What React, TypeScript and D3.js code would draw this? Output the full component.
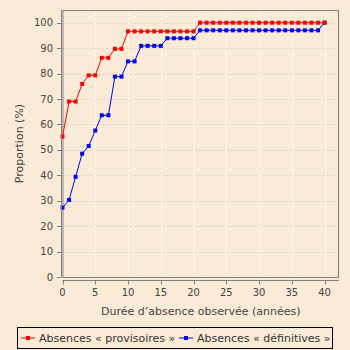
import React from "react";
import * as d3 from "d3";

const years: number[] = d3.range(0, 41);
const provisoires: number[] = [
  55.2, 69.0, 69.0, 75.9, 79.3, 79.3, 86.2, 86.2, 89.7, 89.7,
  96.6, 96.6, 96.6, 96.6, 96.6, 96.6, 96.6, 96.6, 96.6, 96.6, 96.6,
  100, 100, 100, 100, 100, 100, 100, 100, 100, 100,
  100, 100, 100, 100, 100, 100, 100, 100, 100, 100,
];
const definitives: number[] = [
  27.3, 30.3, 39.4, 48.5, 51.5, 57.6, 63.6, 63.6, 78.8, 78.8,
  84.8, 84.8, 90.9, 90.9, 90.9, 90.9, 93.9, 93.9, 93.9, 93.9, 93.9,
  97.0, 97.0, 97.0, 97.0, 97.0, 97.0, 97.0, 97.0, 97.0, 97.0,
  97.0, 97.0, 97.0, 97.0, 97.0, 97.0, 97.0, 97.0, 97.0, 100,
];
const xTicks: number[] = [0, 5, 10, 15, 20, 25, 30, 35, 40];
const yTicks: number[] = [0, 10, 20, 30, 40, 50, 60, 70, 80, 90, 100];
const seriesNames: string[] = ["Absences « provisoires »", "Absences « définitives »"];
const seriesColors: string[] = ["#ff0000", "#0000ff"];
const xLabel = "Durée d’absence observée (années)";
const yLabel = "Proportion (%)";

const BG = "#faebd7";
const FONT = "'DejaVu Sans', sans-serif";
const TXT = "#444444";
const AXIS = "#808080";

export default function App() {
  const left = 62.5, right = 339, top = 10, bottom = 277;
  const x = d3.scaleLinear().domain([0, 42.2]).range([left, right]);
  const y = d3.scaleLinear().domain([0, 105]).range([bottom, top]);
  const line = d3
    .line<[number, number]>()
    .x((d) => x(d[0]))
    .y((d) => y(d[1]));
  const series = [provisoires, definitives].map((vals) =>
    years.map((yr, i) => [yr, vals[i]] as [number, number])
  );
  const axisX = 61;
  const axisY = 280.5;
  const ms = 4;
  const order = [1, 0];

  return (
    <svg
      width={350}
      height={350}
      style={{ position: "absolute", left: 0, top: 0, display: "block" }}
      fontFamily={FONT}
    >
      <rect x={0} y={0} width={350} height={350} fill={BG} />
      {/* grid */}
      {yTicks.map((t) => (
        <line
          key={"gy" + t}
          x1={left}
          x2={right}
          y1={Math.round(y(t)) + 0.5}
          y2={Math.round(y(t)) + 0.5}
          stroke="#d6d2cc"
          strokeWidth={1}
          strokeDasharray="2,2"
        />
      ))}
      {xTicks.map((t) => (
        <line
          key={"gx" + t}
          x1={Math.round(x(t)) + 0.5}
          x2={Math.round(x(t)) + 0.5}
          y1={top}
          y2={bottom}
          stroke="#ffffff"
          strokeWidth={1}
          strokeDasharray="2,2"
        />
      ))}
      {/* plot outline */}
      <rect
        x={left + 0.5}
        y={top + 0.5}
        width={right - left - 1}
        height={bottom - top}
        fill="none"
        stroke={AXIS}
        strokeWidth={1}
      />
      {/* series */}
      {order.map((si) => (
        <g key={"s" + si}>
          <path d={line(series[si]) || ""} fill="none" stroke={seriesColors[si]} strokeWidth={1} />
          {series[si].map((p, i) => (
            <rect
              key={i}
              x={x(p[0]) - ms / 2}
              y={y(p[1]) - ms / 2}
              width={ms}
              height={ms}
              fill={seriesColors[si]}
            />
          ))}
        </g>
      ))}
      {/* y axis */}
      <line x1={axisX + 0.5} x2={axisX + 0.5} y1={top} y2={bottom + 0.5} stroke={AXIS} />
      {yTicks.map((t) => (
        <g key={"yt" + t}>
          <line
            x1={axisX - 4}
            x2={axisX}
            y1={Math.round(y(t)) + 0.5}
            y2={Math.round(y(t)) + 0.5}
            stroke={AXIS}
          />
          <text
            x={axisX - 8}
            y={y(t)}
            dy="0.36em"
            textAnchor="end"
            fontSize={10}
            fill={TXT}
          >
            {t}
          </text>
        </g>
      ))}
      {/* x axis */}
      <line x1={left} x2={right} y1={axisY} y2={axisY} stroke={AXIS} />
      {xTicks.map((t) => (
        <g key={"xt" + t}>
          <line
            x1={Math.round(x(t)) + 0.5}
            x2={Math.round(x(t)) + 0.5}
            y1={axisY}
            y2={axisY + 4}
            stroke={AXIS}
          />
          <text x={x(t)} y={296} textAnchor="middle" fontSize={10} fill={TXT}>
            {t}
          </text>
        </g>
      ))}
      <text x={(left + right) / 2} y={314.5} textAnchor="middle" fontSize={11} fill={TXT}>
        {xLabel}
      </text>
      <text
        transform={`translate(23, ${(top + bottom) / 2}) rotate(-90)`}
        textAnchor="middle"
        fontSize={11}
        fill={TXT}
      >
        {yLabel}
      </text>
      {/* legend */}
      <rect x={17.5} y={327.5} width={315} height={21} fill={BG} stroke="#000000" strokeWidth={1} />
      {[0, 1].map((si) => {
        const lx = si === 0 ? 21 : 179;
        return (
          <g key={"lg" + si}>
            <line x1={lx} x2={lx + 14} y1={338} y2={338} stroke={seriesColors[si]} strokeWidth={1} />
            <rect x={lx + 7 - ms / 2} y={338 - ms / 2} width={ms} height={ms} fill={seriesColors[si]} />
            <text x={lx + 18} y={342} fontSize={11} fill="#333333">
              {seriesNames[si]}
            </text>
          </g>
        );
      })}
    </svg>
  );
}
